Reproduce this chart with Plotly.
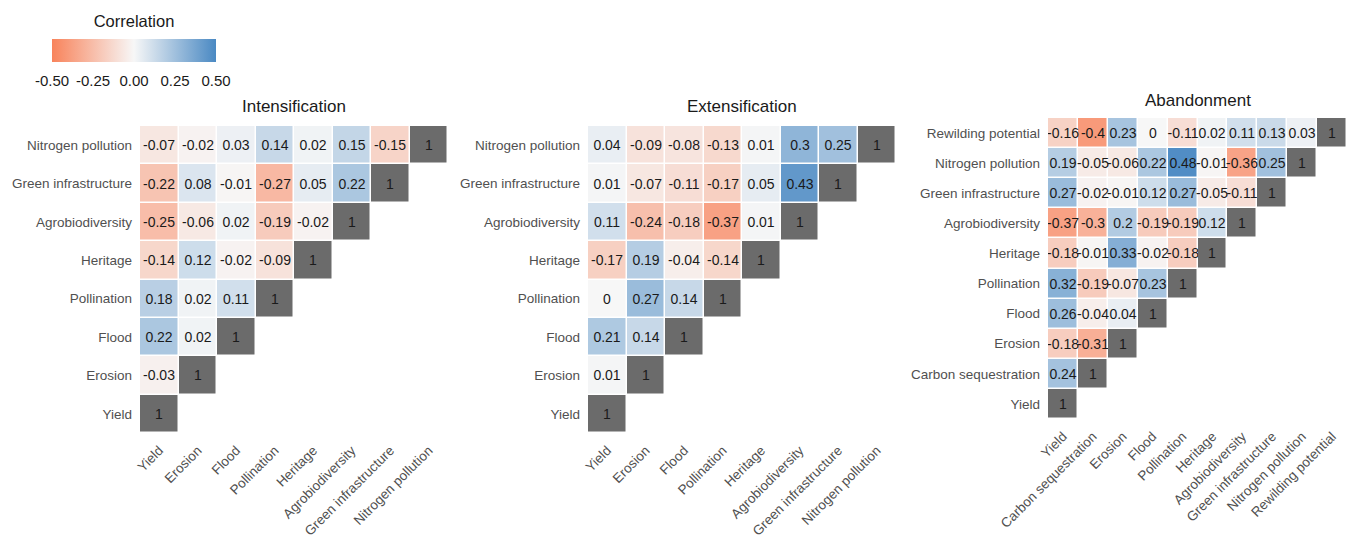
import plotly.graph_objects as go

vars8 = ["Yield", "Erosion", "Flood", "Pollination", "Heritage",
         "Agrobiodiversity", "Green infrastructure", "Nitrogen pollution"]
vars10 = ["Yield", "Carbon sequestration", "Erosion", "Flood", "Pollination", "Heritage",
          "Agrobiodiversity", "Green infrastructure", "Nitrogen pollution", "Rewilding potential"]

# lower-triangle rows: row i holds correlations with columns 0..i-1
intens_rows = [
    [],
    [-0.03],
    [0.22, 0.02],
    [0.18, 0.02, 0.11],
    [-0.14, 0.12, -0.02, -0.09],
    [-0.25, -0.06, 0.02, -0.19, -0.02],
    [-0.22, 0.08, -0.01, -0.27, 0.05, 0.22],
    [-0.07, -0.02, 0.03, 0.14, 0.02, 0.15, -0.15],
]
extens_rows = [
    [],
    [0.01],
    [0.21, 0.14],
    [0, 0.27, 0.14],
    [-0.17, 0.19, -0.04, -0.14],
    [0.11, -0.24, -0.18, -0.37, 0.01],
    [0.01, -0.07, -0.11, -0.17, 0.05, 0.43],
    [0.04, -0.09, -0.08, -0.13, 0.01, 0.3, 0.25],
]
aband_rows = [
    [],
    [0.24],
    [-0.18, -0.31],
    [0.26, -0.04, 0.04],
    [0.32, -0.19, -0.07, 0.23],
    [-0.18, -0.01, 0.33, -0.02, -0.18],
    [-0.37, -0.3, 0.2, -0.19, -0.19, 0.12],
    [0.27, -0.02, -0.01, 0.12, 0.27, -0.05, -0.11],
    [0.19, -0.05, -0.06, 0.22, 0.48, -0.01, -0.36, 0.25],
    [-0.16, -0.4, 0.23, 0, -0.11, 0.02, 0.11, 0.13, 0.03],
]
titles = ["Intensification", "Extensification", "Abandonment"]
cbar_ticks = [-0.5, -0.25, 0.0, 0.25, 0.5]

colorscale = [[0.0, "#F8835B"], [0.5, "#F7F7F7"], [1.0, "#4A89C3"]]
diag_color = "#6B6B6B"
FONT = "Liberation Sans, Arial, sans-serif"

# page offset (browser body margin) compensation
OFF = 8
W, H = 1354 - OFF, 539 - OFF


def px(x):
    return (x - OFF) / W


def py(y):
    return 1 - (y - OFF) / H


# panel pixel boxes (in window pixels): left, right, top, bottom
boxes = [(140, 448, 126, 433), (588, 896, 126, 433), (1048, 1347, 118, 419)]
title_y = [107, 107, 100]

fig = go.Figure()
panels = [(vars8, intens_rows), (vars8, extens_rows), (vars10, aband_rows)]
for k, (vs, rows) in enumerate(panels):
    n = len(vs)
    z, txt, dz, dtxt = [], [], [], []
    for i in range(n):
        zr, tr, dzr, dtr = [], [], [], []
        for j in range(n):
            if j < i:
                v = rows[i][j]
                zr.append(v); tr.append(f"{v:g}")
                dzr.append(None); dtr.append("")
            elif j == i:
                zr.append(None); tr.append("")
                dzr.append(1); dtr.append("1")
            else:
                zr.append(None); tr.append("")
                dzr.append(None); dtr.append("")
        z.append(zr); txt.append(tr); dz.append(dzr); dtxt.append(dtr)
    ax = "" if k == 0 else str(k + 1)
    fig.add_trace(go.Heatmap(
        z=z, x=vs, y=vs, text=txt, texttemplate="%{text}",
        textfont=dict(size=14, color="#1A1A1A", family=FONT),
        colorscale=colorscale, zmin=-0.5, zmax=0.5, xgap=1.5, ygap=1.5,
        showscale=(k == 0), hoverongaps=False,
        xaxis="x" + ax, yaxis="y" + ax,
        colorbar=dict(orientation="h", x=px(134), xanchor="center", y=py(54.5), yanchor="middle",
                      len=164, lenmode="pixels", thickness=23, thicknessmode="pixels",
                      xpad=0, ypad=0,
                      title=dict(text="Correlation", side="top",
                                 font=dict(size=16.5, color="#1A1A1A", family=FONT)),
                      tickvals=cbar_ticks, ticktext=[f"{t:.2f}" for t in cbar_ticks],
                      ticks="outside", tickcolor="white", ticklen=6,
                      tickfont=dict(size=15, color="#1A1A1A", family=FONT),
                      outlinewidth=0),
    ))
    fig.add_trace(go.Heatmap(
        z=dz, x=vs, y=vs, text=dtxt, texttemplate="%{text}",
        textfont=dict(size=14, color="#1A1A1A", family=FONT),
        colorscale=[[0, diag_color], [1, diag_color]], showscale=False,
        xgap=1.5, ygap=1.5, hoverongaps=False,
        xaxis="x" + ax, yaxis="y" + ax,
    ))
    l, r, t, b = boxes[k]
    axis_common = dict(showgrid=False, zeroline=False, showline=False, ticks="",
                       automargin=False, fixedrange=True,
                       tickfont=dict(size=13.5, color="#505050", family=FONT))
    fig.update_layout(**{
        "xaxis" + ax: dict(domain=[px(l), px(r)], anchor="y" + ax, tickangle=-45,
                           ticklabelstandoff=6,
                           range=[-0.5, n - 0.5], type="category", **axis_common),
        "yaxis" + ax: dict(domain=[py(b), py(t)], anchor="x" + ax,
                           ticklabelstandoff=7,
                           range=[-0.5, n - 0.5], type="category", **axis_common),
    })
    fig.add_annotation(text=titles[k], x=px((l + r) / 2), y=py(title_y[k]),
                       xref="paper", yref="paper", showarrow=False,
                       xanchor="center", yanchor="middle",
                       font=dict(size=17, color="#1A1A1A", family=FONT))

fig.update_layout(width=W, height=H, margin=dict(l=0, r=0, t=0, b=0),
                  paper_bgcolor="white", plot_bgcolor="white")
fig.write_html("out.html")
